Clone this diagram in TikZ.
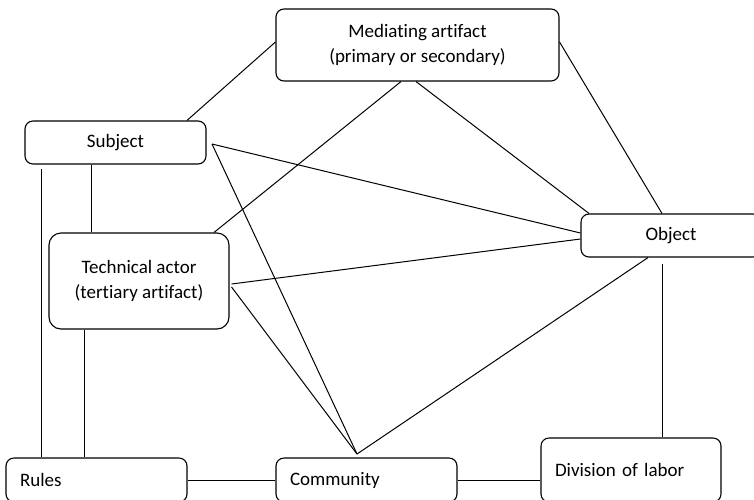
\documentclass[tikz,border=0pt]{standalone}
\usepackage{fontspec}
\setmainfont{Carlito}[Ligatures={NoCommon}]

\tikzstyle{box} = [draw, line width=1.1pt, rounded corners=8pt, inner sep=0pt, align=center, font=\fontsize{19}{25}\selectfont]
\tikzstyle{lbox} = [box, align=left, inner xsep=14pt, text width=153pt, minimum height=44pt]
\tikzstyle{link} = [line width=1pt]

\begin{document}
\begin{tikzpicture}[x=1pt, y=-1pt]
\clip (0,0) rectangle (754,499);

\node[box, minimum width=283pt, minimum height=72pt] (med) at (417.5,45)
    {Mediating artifact\\(primary or secondary)};
\node[box, minimum width=181pt, minimum height=43pt] (subj) at (115.5,142.5) {Subject};
\node[box, minimum width=180pt, minimum height=43pt] (obj) at (671,235.5) {Object};
\node[box, rounded corners=12pt, minimum width=180pt, minimum height=96pt] (tech) at (139,281)
    {Technical actor\\(tertiary artifact)};
\node[lbox] (rules) at (96.5,480) {Rules};
\node[lbox] (comm) at (366.5,480) {Community};
\node[lbox, text width=152pt, minimum height=64pt] (div) at (631,470) {Division of labor};

% meeting points
\coordinate (sj) at (212,144);
\coordinate (cm) at (357,454);

\draw[link] ([xshift=71.5pt]subj.north) -- ([yshift=3pt]med.west);
\draw[link] ([xshift=-16.5pt]med.south) -- ([xshift=75pt]tech.north);
\draw[link] ([xshift=-1.5pt]med.south) -- ([xshift=-82pt]obj.north);
\draw[link] ([yshift=3pt]med.east) -- ([xshift=-9pt]obj.north);

\draw[link] (sj) -- ([yshift=2.5pt]obj.west);
\draw[link] (sj) -- (cm);
\draw[link] ([xshift=2pt,yshift=-3pt]tech.east) -- ([yshift=-3.5pt]obj.west);
\draw[link] ([xshift=2pt,yshift=-6pt]tech.east) -- (cm);
\draw[link] ([xshift=-23pt]obj.south) -- (cm);

\draw[link] ([xshift=-74.5pt,yshift=-4pt]subj.south) -- ([xshift=-55.5pt]rules.north);
\draw[link] ([xshift=-24.5pt]subj.south) -- ([xshift=-48pt]tech.north);
\draw[link] ([xshift=-55pt]tech.south) -- ([xshift=-12.5pt]rules.north);
\draw[link] ([xshift=-9pt,yshift=-6pt]obj.south) -- ([xshift=31pt]div.north);

\draw[link] (rules.east) -- (comm.west);
\draw[link] (comm.east) -- (comm.east -| div.west);
\end{tikzpicture}
\end{document}
